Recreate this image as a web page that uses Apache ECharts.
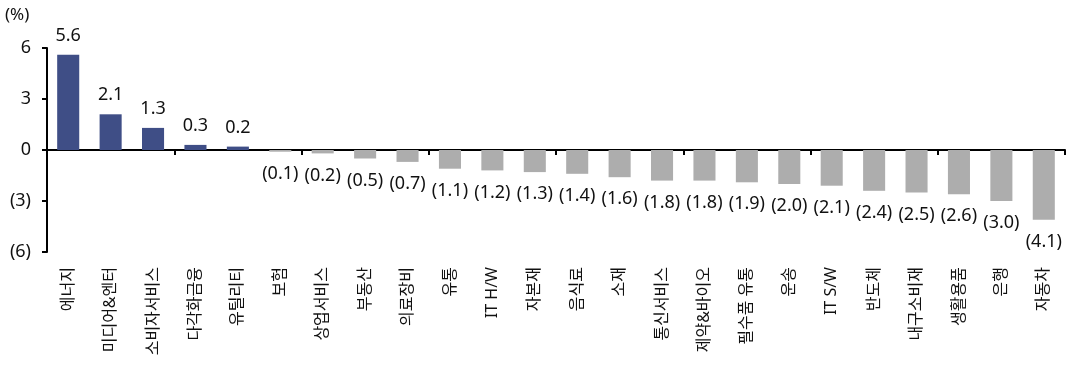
<!DOCTYPE html>
<html>
<head>
<meta charset="utf-8">
<script src="https://cdn.jsdelivr.net/npm/echarts@6/dist/echarts.min.js"></script>
<style>
html,body{margin:0;padding:0;background:#fff;}
#chart{width:1071px;height:365px;}
</style>
</head>
<body>
<div id="chart"></div>
<script>
const categories = ['에너지','미디어&엔터','소비자서비스','다각화금융','유틸리티','보험','상업서비스','부동산','의료장비','유통','IT H/W','자본재','음식료','소재','통신서비스','제약&바이오','필수품 유통','운송','IT S/W','반도체','내구소비재','생활용품','은행','자동차'];
const values = [5.6, 2.1, 1.3, 0.3, 0.2, -0.1, -0.2, -0.5, -0.7, -1.1, -1.2, -1.3, -1.4, -1.6, -1.8, -1.8, -1.9, -2.0, -2.1, -2.4, -2.5, -2.6, -3.0, -4.1];
const yTicks = [-6, -3, 0, 3, 6];
const unitLabel = '(%)';

const POS_COLOR = '#3F4E86';
const NEG_COLOR = '#ADADAD';
const TEXT = '#111111';
const FONT = "'Noto Sans', 'Noto Sans CJK KR', sans-serif";

function valLabel(v) {
  return v < 0 ? '(' + Math.abs(v).toFixed(1) + ')' : v.toFixed(1);
}
function tickLabel(v) {
  return v < 0 ? '(' + Math.abs(v) + ')' : String(v);
}

const chart = echarts.init(document.getElementById('chart'), null, {renderer: 'canvas'});
chart.setOption({
  animation: false,
  backgroundColor: '#ffffff',
  textStyle: {fontFamily: FONT},
  graphic: [{
    type: 'text', left: 5, top: 7,
    style: {text: unitLabel, fontSize: 17, fontFamily: FONT, fill: TEXT}
  }],
  grid: {left: 47, right: 6, top: 48, bottom: 113, containLabel: false},
  xAxis: [{
    type: 'category',
    data: categories,
    position: 'bottom',
    axisLine: {show: true, onZero: true, lineStyle: {color: '#000', width: 2}},
    axisTick: {show: true, length: 5, inside: false, lineStyle: {color: '#000', width: 2}},
    axisLabel: {show: false},
    splitLine: {show: false}
  }, {
    type: 'category',
    data: categories,
    position: 'bottom',
    axisLine: {show: false, onZero: false},
    axisTick: {show: false},
    axisLabel: {show: true, rotate: 90, margin: 15, fontSize: 16, color: TEXT, fontFamily: FONT, interval: 0},
    splitLine: {show: false}
  }],
  yAxis: {
    type: 'value',
    min: yTicks[0], max: yTicks[yTicks.length - 1], interval: 3,
    axisLine: {show: true, lineStyle: {color: '#000', width: 2}},
    axisTick: {show: true, length: 5, lineStyle: {color: '#000', width: 2}},
    axisLabel: {margin: 16, fontSize: 18, color: TEXT, fontFamily: FONT, formatter: tickLabel},
    splitLine: {show: false}
  },
  series: [{
    type: 'bar',
    xAxisIndex: 0,
    barWidth: '52%',
    data: values.map(v => ({
      value: v,
      itemStyle: {color: v < 0 ? NEG_COLOR : POS_COLOR},
      label: {position: v < 0 ? 'bottom' : 'top', distance: v < 0 ? 13 : 10}
    })),
    label: {
      show: true,
      fontSize: 18,
      color: TEXT,
      fontFamily: FONT,
      formatter: p => valLabel(p.value)
    }
  }]
});
</script>
</body>
</html>
